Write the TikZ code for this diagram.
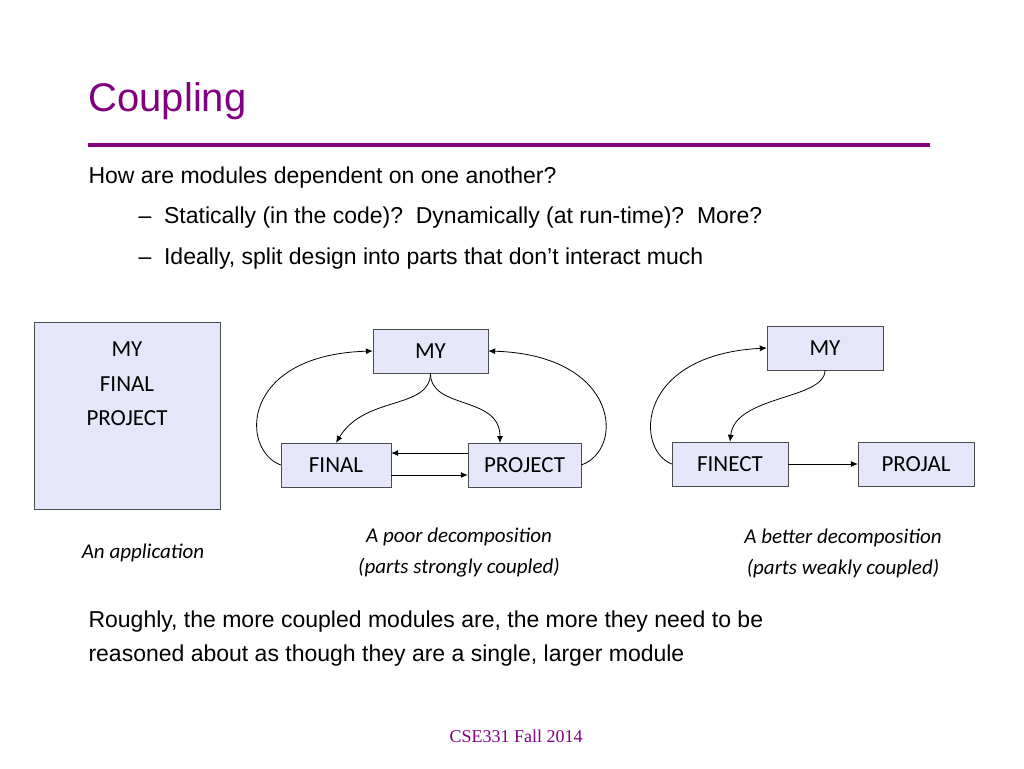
\documentclass[tikz,border=0pt]{standalone}
\usepackage{fontspec}
\setmainfont{Liberation Sans}
\newfontfamily\carfont{Carlito}
\newfontfamily\tmsfont{Liberation Serif}
\usetikzlibrary{arrows.meta}
\definecolor{pur}{RGB}{128,0,128}
\definecolor{lav}{RGB}{230,230,250}
\begin{document}
\begin{tikzpicture}[x=1pt,y=-1pt,
  box/.style={draw=black!70,fill=lav,inner sep=0,font=\carfont\fontsize{23}{28}\selectfont},
  captext/.style={font=\carfont\itshape\fontsize{21}{31}\selectfont,align=center},
  bt/.style={font=\fontsize{23}{28}\selectfont,anchor=west},
  ar/.style={-{Latex[length=7pt,width=6pt]},thick}]
\useasboundingbox (0,0) rectangle (1024,768);
\node[font=\fontsize{40}{44}\selectfont,text=pur,anchor=west] (title) at (85,101) {Coupling};
\draw[pur,line width=3.5pt] (88,145) -- (930,145);
\node[bt] (l1) at (85,178) {How are modules dependent on one another?};
\node[bt] (l2) at (135,218) {–\ \ Statically (in the code)?\ \ Dynamically (at run-time)?\ \ More?};
\node[bt] (l3) at (135,259) {–\ \ Ideally, split design into parts that don't interact much};
\node[box,minimum width=186,minimum height=187,align=center,font=\carfont\fontsize{23}{34.5}\selectfont] (app) at (127,416) {MY\\FINAL\\PROJECT\\[30pt]};
\node[box,minimum width=115,minimum height=44] (my) at (430.5,351) {MY};
\node[box,minimum width=110,minimum height=44] (fin) at (336,465) {FINAL};
\node[box,minimum width=113,minimum height=44] (proj) at (524.5,465) {PROJECT};
\node[box,minimum width=116,minimum height=44] (my2) at (825,348) {MY};
\node[box,minimum width=116,minimum height=44] (fe) at (730,464) {FINECT};
\node[box,minimum width=116,minimum height=44] (pj) at (916,464) {PROJAL};
\draw[ar] (my.south) .. controls (430,410) and (365,395) .. (fin.north);
\draw[ar] (my.south) .. controls (430,410) and (500,395) .. (500,443);
\draw[ar] (fin.west) .. controls (240,450) and (240,355) .. (my.west);
\draw[ar] (proj.east) .. controls (625,450) and (620,355) .. (my.east);
\draw[ar] ([yshift=-10pt]fin.east) -- ([yshift=-10pt]proj.west);
\draw[ar] ([yshift=12pt]proj.west) -- ([yshift=12pt]fin.east);
\draw[ar] (my2.south) .. controls (825,400) and (735,395) .. (fe.north);
\draw[ar] (fe.west) .. controls (635,450) and (635,355) .. (my2.west);
\draw[ar] (fe.east) -- (pj.west);
\node[captext] (c1) at (143,553) {An application};
\node[captext] (c2) at (459,553) {A poor decomposition\\(parts strongly coupled)};
\node[captext] (c3) at (843,553) {A better decomposition\\(parts weakly coupled)};
\node[bt,align=left,font=\fontsize{23}{34}\selectfont] (bot) at (85,639) {Roughly, the more coupled modules are, the more they need to be\\reasoned about as though they are a single, larger module};
\node[font=\tmsfont\fontsize{18}{20}\selectfont,text=pur] (ft) at (516,736) {CSE331 Fall 2014};
\end{tikzpicture}
\end{document}
